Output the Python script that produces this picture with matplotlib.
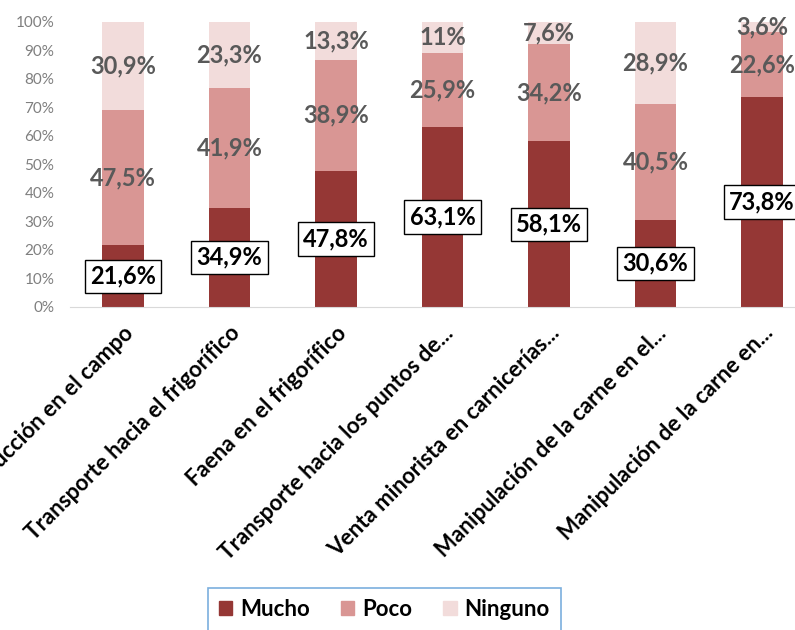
import matplotlib
matplotlib.use("Agg")
import matplotlib.pyplot as plt
import numpy as np
from matplotlib.patches import Patch

plt.rcParams['font.family'] = ['Lato', 'DejaVu Sans']
plt.rcParams['font.weight'] = 'bold'

# etapas de la cadena y porcentajes por respuesta
etapas = ['Producción en el campo',
          'Transporte hacia el frigorífico',
          'Faena en el frigorífico',
          'Transporte hacia los puntos de...',
          'Venta minorista en carnicerías...',
          'Manipulación de la carne en el...',
          'Manipulación de la carne en...']
mucho = [21.6, 34.9, 47.8, 63.1, 58.1, 30.6, 73.8]
poco = [47.5, 41.9, 38.9, 25.9, 34.2, 40.5, 22.6]
ninguno = [30.9, 23.3, 13.3, 11.0, 7.6, 28.9, 3.6]

c_mucho = '#953735'
c_poco = '#d99694'
c_ninguno = '#f2dcdb'

def fmt(v):
    s = ('%.1f' % v).replace('.', ',')
    if s.endswith(',0'):
        s = s[:-2]
    return s + '%'

fig = plt.figure(figsize=(7.95, 6.3), dpi=100)
ax = fig.add_axes([0.0877, 0.5127, 0.9377, 0.4524])

x = np.arange(len(etapas))
m = np.array(mucho)
p = np.array(poco)
n = np.array(ninguno)
w = 0.39

ax.bar(x, m, w, color=c_mucho, label='Mucho')
ax.bar(x, p, w, bottom=m, color=c_poco, label='Poco')
ax.bar(x, n, w, bottom=m + p, color=c_ninguno, label='Ninguno')

fs = 17
for i in range(len(x)):
    ax.text(x[i], m[i] / 2, fmt(m[i]), ha='center', va='center', fontsize=fs,
            fontweight='bold', color='black',
            bbox=dict(boxstyle='square,pad=0.22', fc='white', ec='black', lw=1))
    ax.text(x[i], m[i] + p[i] / 2, fmt(p[i]), ha='center', va='center',
            fontsize=fs, fontweight='bold', color='#595959')
    ax.text(x[i], m[i] + p[i] + n[i] / 2, fmt(n[i]), ha='center', va='center',
            fontsize=fs, fontweight='bold', color='#595959')

ax.set_xlim(-0.5, len(x) - 0.5)
ax.set_ylim(0, 100)
ax.set_yticks(np.arange(0, 101, 10))
ax.set_yticklabels(['%d%%' % v for v in range(0, 101, 10)], fontsize=11,
                   color='#7f7f7f', fontweight='normal')
ax.tick_params(axis='y', length=0, pad=11)
ax.tick_params(axis='x', length=0, pad=11)
ax.set_xticks(x)
ax.set_xticklabels(etapas, rotation=45, ha='right', va='top',
                   rotation_mode='anchor', fontsize=16, fontweight='bold')

for s in ['top', 'right', 'left']:
    ax.spines[s].set_visible(False)
ax.spines['bottom'].set_color('#d9d9d9')

handles = [Patch(color=c_mucho), Patch(color=c_poco), Patch(color=c_ninguno)]
leg = fig.legend(handles, ['Mucho', 'Poco', 'Ninguno'], ncol=3,
                 loc='upper left', bbox_to_anchor=(208 / 795, 1 - 588 / 630),
                 borderaxespad=0, frameon=True, fancybox=False, fontsize=16,
                 handlelength=0.6, handleheight=0.6, handletextpad=0.35,
                 columnspacing=1.4, borderpad=0.5)
leg.get_frame().set_edgecolor('#5b9bd5')
leg.get_frame().set_linewidth(1.2)

fig.savefig('out.png', dpi=100)
